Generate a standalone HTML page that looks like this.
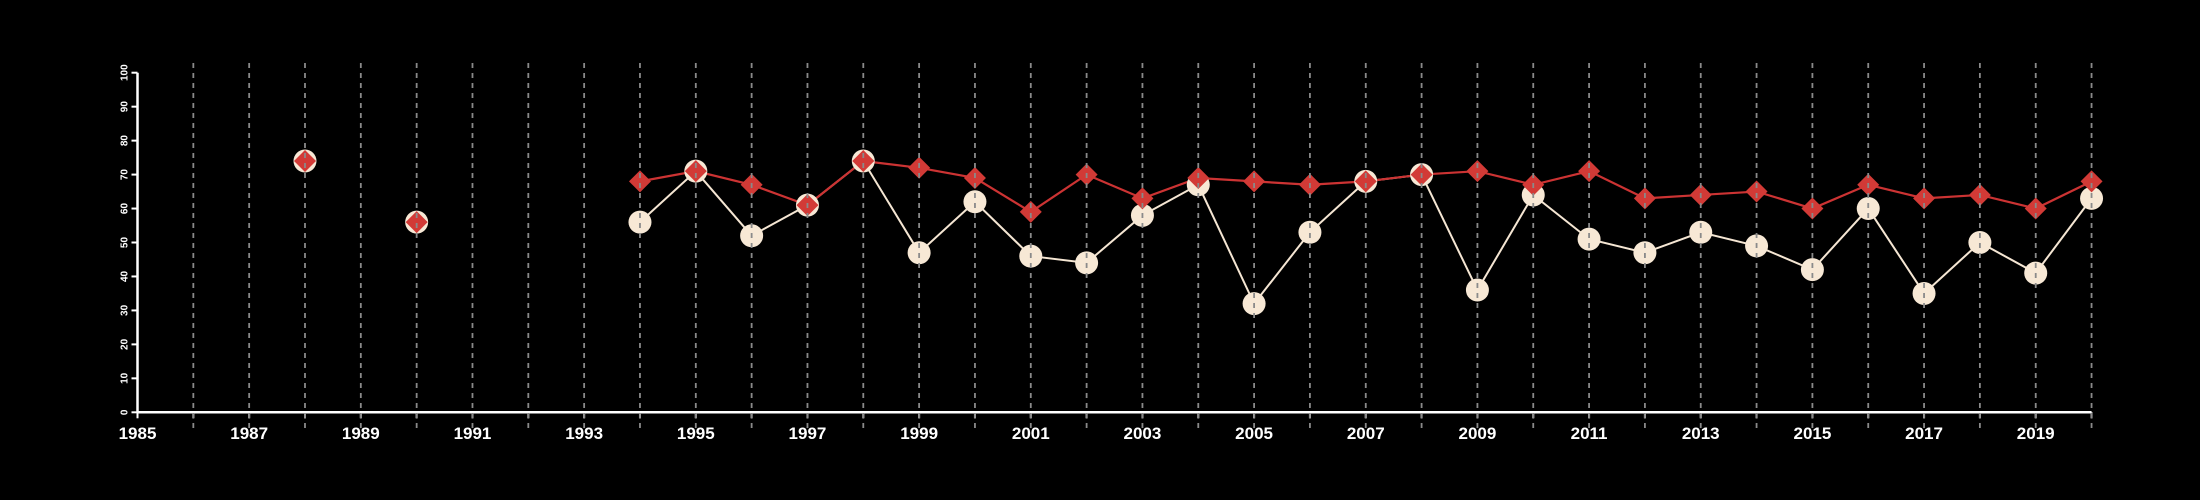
<!DOCTYPE html>
<html><head><meta charset="utf-8">
<style>
html,body{margin:0;padding:0;background:#000;}
svg{display:block;}
text{font-family:"Liberation Sans",sans-serif;fill:#fff;}
</style></head>
<body>
<svg id="chart" width="2200" height="500" viewBox="0 0 2200 500" xmlns="http://www.w3.org/2000/svg"></svg>
<script>
const years = [1988,1990,1994,1995,1996,1997,1998,1999,2000,2001,2002,2003,2004,2005,2006,2007,2008,2009,2010,2011,2012,2013,2014,2015,2016,2017,2018,2019,2020];
const creamValues = [74,56,56,71,52,61,74,47,62,46,44,58,67,32,53,68,70,36,64,51,47,53,49,42,60,35,50,41,63];
const redValues = [74,56,68,71,67,61,74,72,69,59,70,63,69,68,67,68,70,71,67,71,63,64,65,60,67,63,64,60,68];
const xTickLabels = ["1985","1987","1989","1991","1993","1995","1997","1999","2001","2003","2005","2007","2009","2011","2013","2015","2017","2019"];
const yTickLabels = ["0","10","20","30","40","50","60","70","80","90","100"];

const NS = "http://www.w3.org/2000/svg";
const svg = document.getElementById("chart");
const X0 = 137.5, PXY = 55.83, Y0 = 412.3, PXV = 3.396;
const xs = y => X0 + (y - 1985) * PXY;
const ys = v => Y0 - v * PXV;
function mk(tag, attrs, parent) {
  const e = document.createElementNS(NS, tag);
  for (const k in attrs) e.setAttribute(k, attrs[k]);
  (parent || svg).appendChild(e);
  return e;
}

// axes
const axes = mk("g", {});


const xAxis = mk("line", {x1: xs(1985), x2: xs(2020), y1: Y0, y2: Y0, stroke: "#fff", "stroke-width": 2.5}, axes);


const yAxis = mk("line", {x1: X0, x2: X0, y1: ys(0), y2: ys(100), stroke: "#fff", "stroke-width": 2.5}, axes);



for (let y = 1985; y <= 2020; y++) {
  const t = mk("line", {x1: xs(y), x2: xs(y), y1: Y0, y2: Y0 + 6, stroke: "#fff", "stroke-width": 2}, axes);
  
  
}
xTickLabels.forEach(l => {
  const t = mk("text", {x: xs(+l), y: 439, "text-anchor": "middle", "font-size": 17, "font-weight": "bold"}, axes);
  t.textContent = l;
  
  
});
yTickLabels.forEach(l => {
  const v = +l;
  const tk = mk("line", {x1: X0 - 6, x2: X0, y1: ys(v), y2: ys(v), stroke: "#fff", "stroke-width": 2}, axes);
  
  
  const t = mk("text", {x: 0, y: 0, "text-anchor": "middle", "font-size": 10, "font-weight": "bold", transform: `translate(${X0 - 10},${ys(v)}) rotate(-90)`}, axes);
  t.textContent = l;
  
  
});

// lines (connected from 1994 onward)
function linePts(vals) {
  return years.map((y, i) => [y, vals[i]]).filter(p => p[0] >= 1994).map(p => xs(p[0]) + "," + ys(p[1])).join(" ");
}
const creamLine = mk("polyline", {points: linePts(creamValues), fill: "none", stroke: "#f5e6d3", "stroke-width": 2});


const redLine = mk("polyline", {points: linePts(redValues), fill: "none", stroke: "#cc3333", "stroke-width": 2.2});



years.forEach((y, i) => {
  const c = mk("circle", {cx: xs(y), cy: ys(creamValues[i]), r: 11.5, fill: "#f7e8d5"});
  
  
});
years.forEach((y, i) => {
  const cx = xs(y), cy = ys(redValues[i]), d = 11;
  const p = mk("polygon", {points: `${cx},${cy - d} ${cx + d},${cy} ${cx},${cy + d} ${cx - d},${cy}`, fill: "#d23a36"});
  
  
});

// dashed grid on top
const grid = mk("g", {});


for (let y = 1986; y <= 2020; y++) {
  const g = mk("line", {x1: xs(y), x2: xs(y), y1: 63, y2: 428, stroke: "#8a8a8a", "stroke-width": 1.8, "stroke-dasharray": "5,5"}, grid);
  
  
}
</script>
</body></html>
